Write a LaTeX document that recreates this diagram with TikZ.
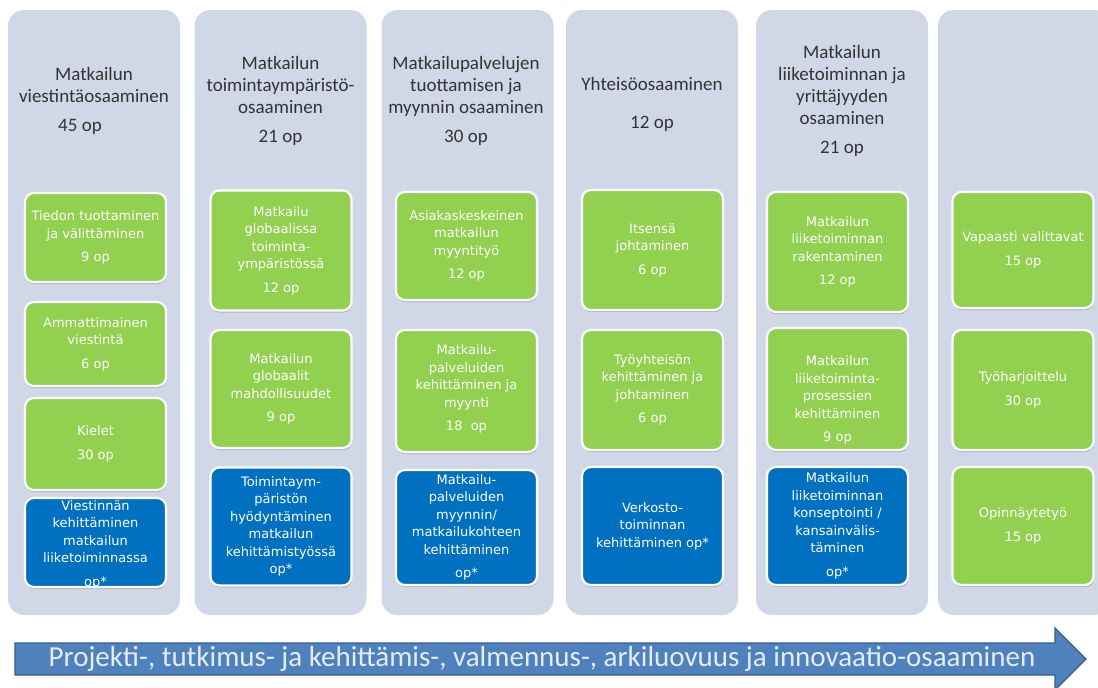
\documentclass[tikz,border=0pt]{standalone}
\usepackage{fontspec}
\newfontfamily\hdrfont{Carlito}
\newfontfamily\boxfont{DejaVu Sans}
\usetikzlibrary{shadows}
\definecolor{colfill}{HTML}{D0D8E7}
\definecolor{grn}{HTML}{92D050}
\definecolor{blu}{HTML}{0070C0}
\definecolor{arrfill}{HTML}{4F81BD}
\definecolor{arrline}{HTML}{385D8A}
\definecolor{arrtext}{HTML}{E4ECF6}
\definecolor{hdrtext}{HTML}{333333}
\tikzset{
  column/.style={fill=colfill, rounded corners=16pt, minimum width=172pt, minimum height=605pt, inner sep=0pt},
  boxbase/.style={rounded corners=9pt, draw=white, line width=2.2pt, minimum width=141pt, inner sep=0pt,
    drop shadow={shadow xshift=0.6pt, shadow yshift=-2.2pt, opacity=0.35, fill=black!55}},
  gbox/.style={boxbase, fill=grn},
  bbox/.style={boxbase, fill=blu},
  boxtext/.style={text=white, align=center, inner sep=0pt, font=\boxfont\fontsize{13}{17.5}\selectfont},
  hdr/.style={text=hdrtext, align=center, inner sep=0pt, font=\hdrfont\fontsize{19}{22}\selectfont},
}
\newcommand{\opgap}{\\[6pt]}
\begin{document}
\begin{tikzpicture}[x=1pt,y=-1pt]
\useasboundingbox (0,0) rectangle (1098,688);
\clip (0,0) rectangle (1098,688);
\fill[white] (0,0) rectangle (1098,688);

% columns
\node[column] (col1) at (94,312.5) {};
\node[column] (col2) at (280.5,312.5) {};
\node[column] (col3) at (467.5,312.5) {};
\node[column] (col4) at (652,312.5) {};
\node[column] (col5) at (842,312.5) {};
\node[column] (col6) at (1024,312.5) {};

% headers
\node[hdr] (h1) at (94,101) {Matkailun\\viestintäosaaminen\\[7pt]45 op\hspace*{28pt}};
\node[hdr] (h2) at (280.5,101) {Matkailun\\toimintaympäristö-\\osaaminen\\[7pt]21 op};
\node[hdr] (h3) at (466,101) {Matkailupalvelujen\\tuottamisen ja\\myynnin osaaminen\\[7pt]30 op};
\node[hdr] (h4) at (652,104) {Yhteisöosaaminen\\[16pt]12 op};
\node[hdr] (h5) at (842,101) {Matkailun\\liiketoiminnan ja\\yrittäjyyden\\osaaminen\\[7pt]21 op};

% column 1
\node[gbox, minimum height=89pt] (b11) at (95.5,237.5) {};
\node[gbox, minimum height=84pt] (b12) at (95.5,344) {};
\node[gbox, minimum height=92pt] (b13) at (95.5,444) {};
\node[bbox, minimum height=89pt] (b14) at (95.5,542.5) {};
\node[boxtext] (t11) at (b11.center) {Tiedon tuottaminen\\ja välittäminen\opgap 9 op};
\node[boxtext] (t12) at (b12.center) {Ammattimainen\\viestintä\opgap 6 op};
\node[boxtext] (t13) at (b13.center) {Kielet\opgap 30 op};
\node[boxtext] (t14) at (95.5,544.5) {Viestinnän\\kehittäminen\\matkailun\\liiketoiminnassa\opgap op*};

% column 2
\node[gbox, minimum height=120pt] (b21) at (281,250.5) {};
\node[gbox, minimum height=118pt] (b22) at (281,389) {};
\node[bbox, minimum height=118pt] (b23) at (281,526.5) {};
\node[boxtext] (t21) at (b21.center) {Matkailu\\globaalissa\\toiminta-\\ympäristössä\opgap 12 op};
\node[boxtext] (t22) at (b22.center) {Matkailun\\globaalit\\mahdollisuudet\opgap 9 op};
\node[boxtext] (t23) at (b23.center) {Toimintaym-\\päristön\\hyödyntäminen\\matkailun\\kehittämistyössä\\op*};

% column 3
\node[gbox, minimum height=108pt] (b31) at (466.5,246) {};
\node[gbox, minimum height=122pt] (b32) at (466.5,391) {};
\node[bbox, minimum height=115pt] (b33) at (466.5,527.5) {};
\node[boxtext] (t31) at (b31.center) {Asiakaskeskeinen\\matkailun\\myyntityö\opgap 12 op};
\node[boxtext] (t32) at (466.5,389) {Matkailu-\\palveluiden\\kehittäminen ja\\myynti\opgap 18~~op};
\node[boxtext] (t33) at (b33.center) {Matkailu-\\palveluiden\\myynnin/\\matkailukohteen\\kehittäminen\opgap op*};

% column 4
\node[gbox, minimum height=120pt] (b41) at (652.5,250) {};
\node[gbox, minimum height=120pt] (b42) at (652.5,390) {};
\node[bbox, minimum height=118pt] (b43) at (652.5,526) {};
\node[boxtext] (t41) at (b41.center) {Itsensä\\johtaminen\opgap 6 op};
\node[boxtext] (t42) at (b42.center) {Työyhteisön\\kehittäminen ja\\johtaminen\opgap 6 op};
\node[boxtext] (t43) at (b43.center) {Verkosto-\\toiminnan\\kehittäminen op*};

% column 5
\node[gbox, minimum height=120pt] (b51) at (837.5,252) {};
\node[gbox, minimum height=122pt] (b52) at (837.5,389) {};
\node[bbox, minimum height=118pt] (b53) at (837.5,526) {};
\node[boxtext] (t51) at (b51.center) {Matkailun\\liiketoiminnan\\rakentaminen\opgap 12 op};
\node[boxtext] (t52) at (837.5,400) {Matkailun\\liiketoiminta-\\prosessien\\kehittäminen\opgap 9 op};
\node[boxtext] (t53) at (b53.center) {Matkailun\\liiketoiminnan\\konseptointi /\\kansainvälis-\\täminen\opgap op*};

% column 6
\node[gbox, minimum height=116pt] (b61) at (1023,250) {};
\node[gbox, minimum height=120pt] (b62) at (1023,390) {};
\node[gbox, minimum height=118pt] (b63) at (1023,526) {};
\node[boxtext] (t61) at (b61.center) {Vapaasti valittavat\opgap 15 op};
\node[boxtext] (t62) at (b62.center) {Työharjoittelu\opgap 30 op};
\node[boxtext] (t63) at (b63.center) {Opinnäytetyö\opgap 15 op};

% bottom arrow
\draw[fill=arrfill, draw=arrline, line width=1.2pt, line join=miter]
  (15,643) -- (1055,643) -- (1055,628) -- (1086,659) -- (1055,690) -- (1055,675) -- (15,675) -- cycle;
\node[text=arrtext, inner sep=0pt, font=\hdrfont\fontsize{29}{30}\selectfont] (arrtxt) at (542,659)
  {Projekti-, tutkimus- ja kehittämis-, valmennus-, arkiluovuus ja innovaatio-osaaminen};
\end{tikzpicture}
\end{document}
